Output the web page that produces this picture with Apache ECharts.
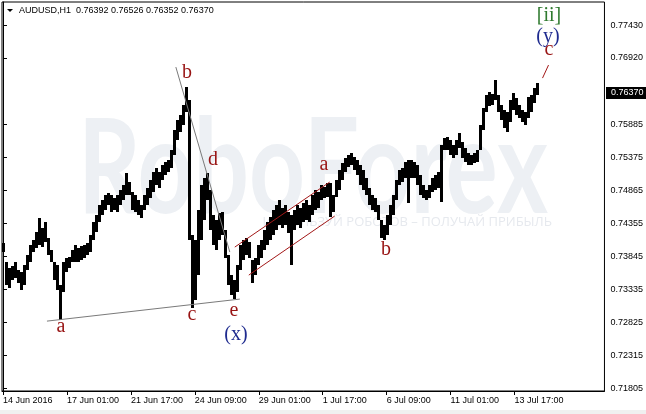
<!DOCTYPE html>
<html>
<head>
<meta charset="utf-8">
<script src="https://cdn.jsdelivr.net/npm/echarts@6/dist/echarts.min.js"></script>
<style>
html,body{margin:0;padding:0;background:#fff;}
#chart{width:646px;height:414px;}
</style>
</head>
<body>
<div id="chart"></div>
<script>
// ---- DATA (AUDUSD H1, sampled every 3 hours) ----
const highs = [0.7405,0.7376,0.7366,0.7369,0.7376,0.7363,0.7360,0.7371,0.7387,0.7402,
0.7410,0.7422,0.7444,0.7428,0.7438,0.7413,0.7394,0.7376,0.7371,0.7340,
0.7376,0.7382,0.7383,0.7394,0.7402,0.7397,0.7400,0.7402,0.7405,0.7418,
0.7438,0.7449,0.7464,0.7472,0.7480,0.7483,0.7480,0.7475,0.7480,0.7487,
0.7495,0.7514,0.7500,0.7484,0.7480,0.7472,0.7464,0.7480,0.7490,0.7503,
0.7515,0.7521,0.7515,0.7526,0.7531,0.7534,0.7549,0.7580,0.7596,0.7604,
0.7619,0.7647,0.7627,0.7418,0.7410,0.7456,0.7495,0.7506,0.7514,0.7487,
0.7449,0.7441,0.7452,0.7453,0.7425,0.7387,0.7356,0.7348,0.7371,0.7402,
0.7410,0.7413,0.7407,0.7379,0.7382,0.7402,0.7410,0.7425,0.7438,0.7445,
0.7456,0.7464,0.7472,0.7459,0.7464,0.7453,0.7449,0.7456,0.7464,0.7459,
0.7467,0.7472,0.7464,0.7480,0.7487,0.7484,0.7495,0.7492,0.7498,0.7498,
0.7480,0.7503,0.7518,0.7529,0.7537,0.7542,0.7545,0.7538,0.7534,0.7526,
0.7518,0.7506,0.7490,0.7480,0.7475,0.7464,0.7441,0.7433,0.7449,0.7464,
0.7480,0.7503,0.7518,0.7521,0.7531,0.7534,0.7534,0.7531,0.7526,0.7511,
0.7495,0.7487,0.7495,0.7506,0.7511,0.7515,0.7557,0.7568,0.7569,0.7565,
0.7557,0.7565,0.7576,0.7562,0.7552,0.7545,0.7542,0.7545,0.7549,0.7588,
0.7614,0.7635,0.7639,0.7636,0.7658,0.7635,0.7619,0.7611,0.7608,0.7627,
0.7638,0.7630,0.7619,0.7611,0.7608,0.7631,0.7635,0.7645,0.7653];

const lows = [0.7391,0.7340,0.7335,0.7348,0.7351,0.7343,0.7332,0.7340,0.7363,0.7376,
0.7391,0.7397,0.7402,0.7399,0.7407,0.7387,0.7376,0.7348,0.7332,0.7286,
0.7329,0.7360,0.7366,0.7376,0.7376,0.7376,0.7379,0.7382,0.7387,0.7391,
0.7410,0.7422,0.7438,0.7449,0.7456,0.7464,0.7453,0.7456,0.7453,0.7464,
0.7472,0.7480,0.7480,0.7456,0.7453,0.7449,0.7444,0.7456,0.7464,0.7475,
0.7484,0.7495,0.7490,0.7503,0.7511,0.7515,0.7521,0.7542,0.7565,0.7577,
0.7588,0.7608,0.7410,0.7304,0.7317,0.7356,0.7410,0.7441,0.7472,0.7425,
0.7402,0.7394,0.7410,0.7418,0.7382,0.7340,0.7325,0.7318,0.7329,0.7363,
0.7379,0.7387,0.7382,0.7343,0.7356,0.7371,0.7382,0.7394,0.7402,0.7410,
0.7418,0.7425,0.7433,0.7428,0.7433,0.7421,0.7371,0.7425,0.7433,0.7428,
0.7438,0.7441,0.7438,0.7449,0.7456,0.7459,0.7472,0.7475,0.7476,0.7445,
0.7453,0.7476,0.7487,0.7503,0.7515,0.7523,0.7526,0.7518,0.7511,0.7495,
0.7487,0.7480,0.7464,0.7456,0.7453,0.7441,0.7413,0.7410,0.7418,0.7433,
0.7449,0.7472,0.7495,0.7500,0.7506,0.7467,0.7506,0.7506,0.7495,0.7480,
0.7475,0.7472,0.7475,0.7484,0.7487,0.7490,0.7469,0.7549,0.7549,0.7542,
0.7537,0.7542,0.7552,0.7537,0.7531,0.7526,0.7526,0.7529,0.7531,0.7549,
0.7580,0.7608,0.7617,0.7619,0.7627,0.7608,0.7596,0.7583,0.7577,0.7593,
0.7611,0.7604,0.7599,0.7593,0.7588,0.7599,0.7608,0.7622,0.7635];

const HOURS_PER_BAR = 3;
const xTickHours = [0, 64, 128, 192, 256, 320, 384, 448, 512];
const xTickLabels = ['14 Jun 2016','17 Jun 01:00','21 Jun 17:00','24 Jun 09:00','29 Jun 01:00','1 Jul 17:00','6 Jul 09:00','11 Jul 01:00','13 Jul 17:00'];
const yTickValues = [0.71805,0.72315,0.72825,0.73335,0.73845,0.74355,0.74865,0.75375,0.75885,0.76920,0.77430];
const lastPrice = 0.76370;
const titleText = 'AUDUSD,H1  0.76392 0.76526 0.76352 0.76370';

// annotation lines in data coordinates [hour, price]
const greyLineACE = [[44, 0.72842], [237, 0.73183]];
const greyLineBD = [[173, 0.76779], [227, 0.73912]];
const channelUpper = [[232, 0.73989], [327, 0.74997]];
const channelLower = [[246, 0.73555], [332, 0.74470]];
const projectionC = [[540, 0.76608], [546, 0.76810]];

// ---- CHART ----
const RED = '#981414', NAVY = '#1f2b8f', GREEN = '#2f7a2f';
const chart = echarts.init(document.getElementById('chart'), null, {renderer: 'canvas'});
const barData = highs.map((h, i) => [i * HOURS_PER_BAR, lows[i], h]);

function renderBar(params, api) {
  const x = api.value(0);
  const top = api.coord([x, api.value(2)]);
  const bot = api.coord([x, api.value(1)]);
  const y0 = Math.round(top[1]), y1 = Math.round(bot[1]);
  return {
    type: 'rect',
    shape: {x: Math.round(top[0]) - 1, y: y0, width: 3, height: Math.max(1, y1 - y0)},
    style: {fill: '#000'}
  };
}

function lineSeries(pts, color) {
  return {
    type: 'line', data: pts, symbol: 'none', silent: true, z: 5,
    lineStyle: {color: color, width: 1}, animation: false
  };
}

// watermark width measurement
const WM_FONT = 'bold 132px Lato, "Open Sans", sans-serif';
const cv = document.createElement('canvas').getContext('2d');
cv.font = WM_FONT;
const wmW = cv.measureText('RoboForex').width || 600;
const wmScale = 470 / wmW;

const labelFont = '"Liberation Sans", Arial, sans-serif';
const serif = '"Liberation Serif", "Times New Roman", serif';
function wave(t, x, y, c) {
  return {type: 'text', x: x, y: y, z: 100,
    style: {text: t, fill: c, font: '20px ' + serif, textAlign: 'center', textVerticalAlign: 'middle'}};
}

chart.setOption({
  animation: false,
  backgroundColor: '#fff',
  grid: {left: 2, right: 41, top: 2, bottom: 23, show: true, borderColor: '#000', borderWidth: 1, backgroundColor: 'transparent'},
  xAxis: {
    type: 'value', min: -1, max: 602,
    axisLine: {show: true, lineStyle: {color: '#000', width: 1}},
    axisTick: {show: true, customValues: xTickHours, length: 4, lineStyle: {color: '#000'}},
    axisLabel: {
      customValues: xTickHours, align: 'left', margin: 5,
      fontSize: 9, fontFamily: labelFont, color: '#000',
      formatter: v => xTickLabels[xTickHours.indexOf(v)] || ''
    },
    splitLine: {show: false}
  },
  yAxis: {
    type: 'value', position: 'right', min: 0.71759, max: 0.77787,
    axisLine: {show: true, lineStyle: {color: '#000', width: 1}},
    axisTick: {show: true, customValues: yTickValues, length: 4, lineStyle: {color: '#000'}},
    axisLabel: {
      customValues: yTickValues, margin: 6,
      fontSize: 9, fontFamily: labelFont, color: '#000',
      formatter: v => v.toFixed(5)
    },
    splitLine: {show: false}
  },
  graphic: [
    {type: 'text', x: 78, y: 236, z: -10, scaleX: wmScale, scaleY: 1,
      style: {text: 'RoboForex', font: WM_FONT, fill: '#edf0f4', textVerticalAlign: 'bottom'}},
    {type: 'text', x: 552, y: 222, z: -10,
      style: {text: 'ИСПОЛЬЗУЙ РОБОТОВ – ПОЛУЧАЙ ПРИБЫЛЬ', font: '13px "Open Sans", sans-serif', fill: '#e6e9ee', textAlign: 'right', textVerticalAlign: 'middle'}},
    {type: 'polygon', z: 100, shape: {points: [[7, 9], [13, 9], [10, 12]]}, style: {fill: '#000'}},
    {type: 'text', x: 19, y: 11, z: 100,
      style: {text: titleText, font: '9px ' + labelFont, fill: '#000', textVerticalAlign: 'middle'}},
    {type: 'rect', z: 100, shape: {x: 606, y: 87, width: 40, height: 12}, style: {fill: '#000'}},
    {type: 'text', x: 611, y: 93, z: 101,
      style: {text: lastPrice.toFixed(5), font: '9px ' + labelFont, fill: '#fff', textVerticalAlign: 'middle'}},
    {type: 'rect', z: 100, shape: {x: 0, y: 410, width: 646, height: 4}, style: {fill: '#f0f0f0'}},
    wave('a', 61, 327, RED),
    wave('b', 187, 73, RED),
    wave('c', 192, 315, RED),
    wave('d', 213, 160, RED),
    wave('e', 234, 311, RED),
    wave('(x)', 236, 335, NAVY),
    wave('a', 324, 165, RED),
    wave('b', 386, 250, RED),
    wave('[ii]', 549, 16, GREEN),
    wave('(y)', 548, 37, NAVY),
    wave('c', 549, 50, RED)
  ],
  series: [
    {type: 'custom', renderItem: renderBar, data: barData, encode: {x: 0, y: [1, 2]}, z: 3, animation: false},
    lineSeries(greyLineACE, '#7a7a7a'),
    lineSeries(greyLineBD, '#7a7a7a'),
    lineSeries(channelUpper, '#a31818'),
    lineSeries(channelLower, '#a31818'),
    lineSeries(projectionC, '#a31818')
  ]
});
</script>
</body>
</html>
